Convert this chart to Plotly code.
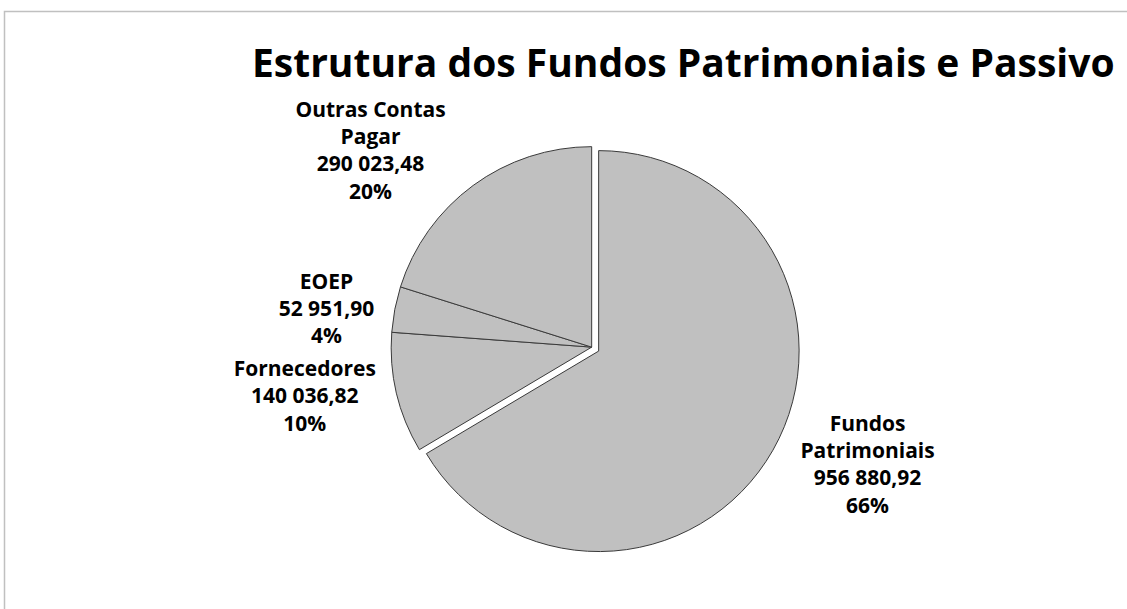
import plotly.graph_objects as go

categories = ["Fundos<br>Patrimoniais", "Fornecedores", "EOEP", "Outras Contas<br>Pagar"]
values = [956880.92, 140036.82, 52951.90, 290023.48]
pulls = [0.04, 0, 0, 0]

W, H = 1127, 609

fig = go.Figure(go.Pie(
    labels=categories,
    values=values,
    sort=False,
    direction="clockwise",
    rotation=0,
    pull=pulls,
    marker=dict(colors=["#C0C0C0"] * 4, line=dict(color="#3A3A3A", width=1)),
    texttemplate="<b>%{label}<br>%{value:,.2f}<br>%{percent:.0%}</b>",
    textposition="outside",
    textfont=dict(family="Open Sans", size=21, color="#000000"),
    outsidetextfont=dict(family="Open Sans", size=21, color="#000000"),
    hoverinfo="skip",
    domain=dict(x=[0.34, 0.71], y=[0.06, 0.80]),
    showlegend=False,
))

fig.update_layout(
    width=W, height=H,
    margin=dict(l=0, r=0, t=0, b=0),
    paper_bgcolor="white",
    plot_bgcolor="white",
    separators=", ",
    font=dict(family="Open Sans", color="#000000"),
    shapes=[dict(type="rect", xref="paper", yref="paper",
                 x0=4.5 / W, x1=1.05, y0=-0.05, y1=1 - 11.5 / H,
                 line=dict(color="#C0C0C0", width=1.5), fillcolor="rgba(0,0,0,0)")],
    annotations=[dict(text="<b>Estrutura dos Fundos Patrimoniais e Passivo</b>",
                      xref="paper", yref="paper", x=250 / W, y=1 - 62 / H,
                      xanchor="left", yanchor="middle", showarrow=False,
                      font=dict(family="Open Sans", size=39, color="#000000"))],
)

fig.write_html("out.html", config={"displayModeBar": False},
               post_script="document.body.style.margin='0';document.body.style.overflow='hidden';")
